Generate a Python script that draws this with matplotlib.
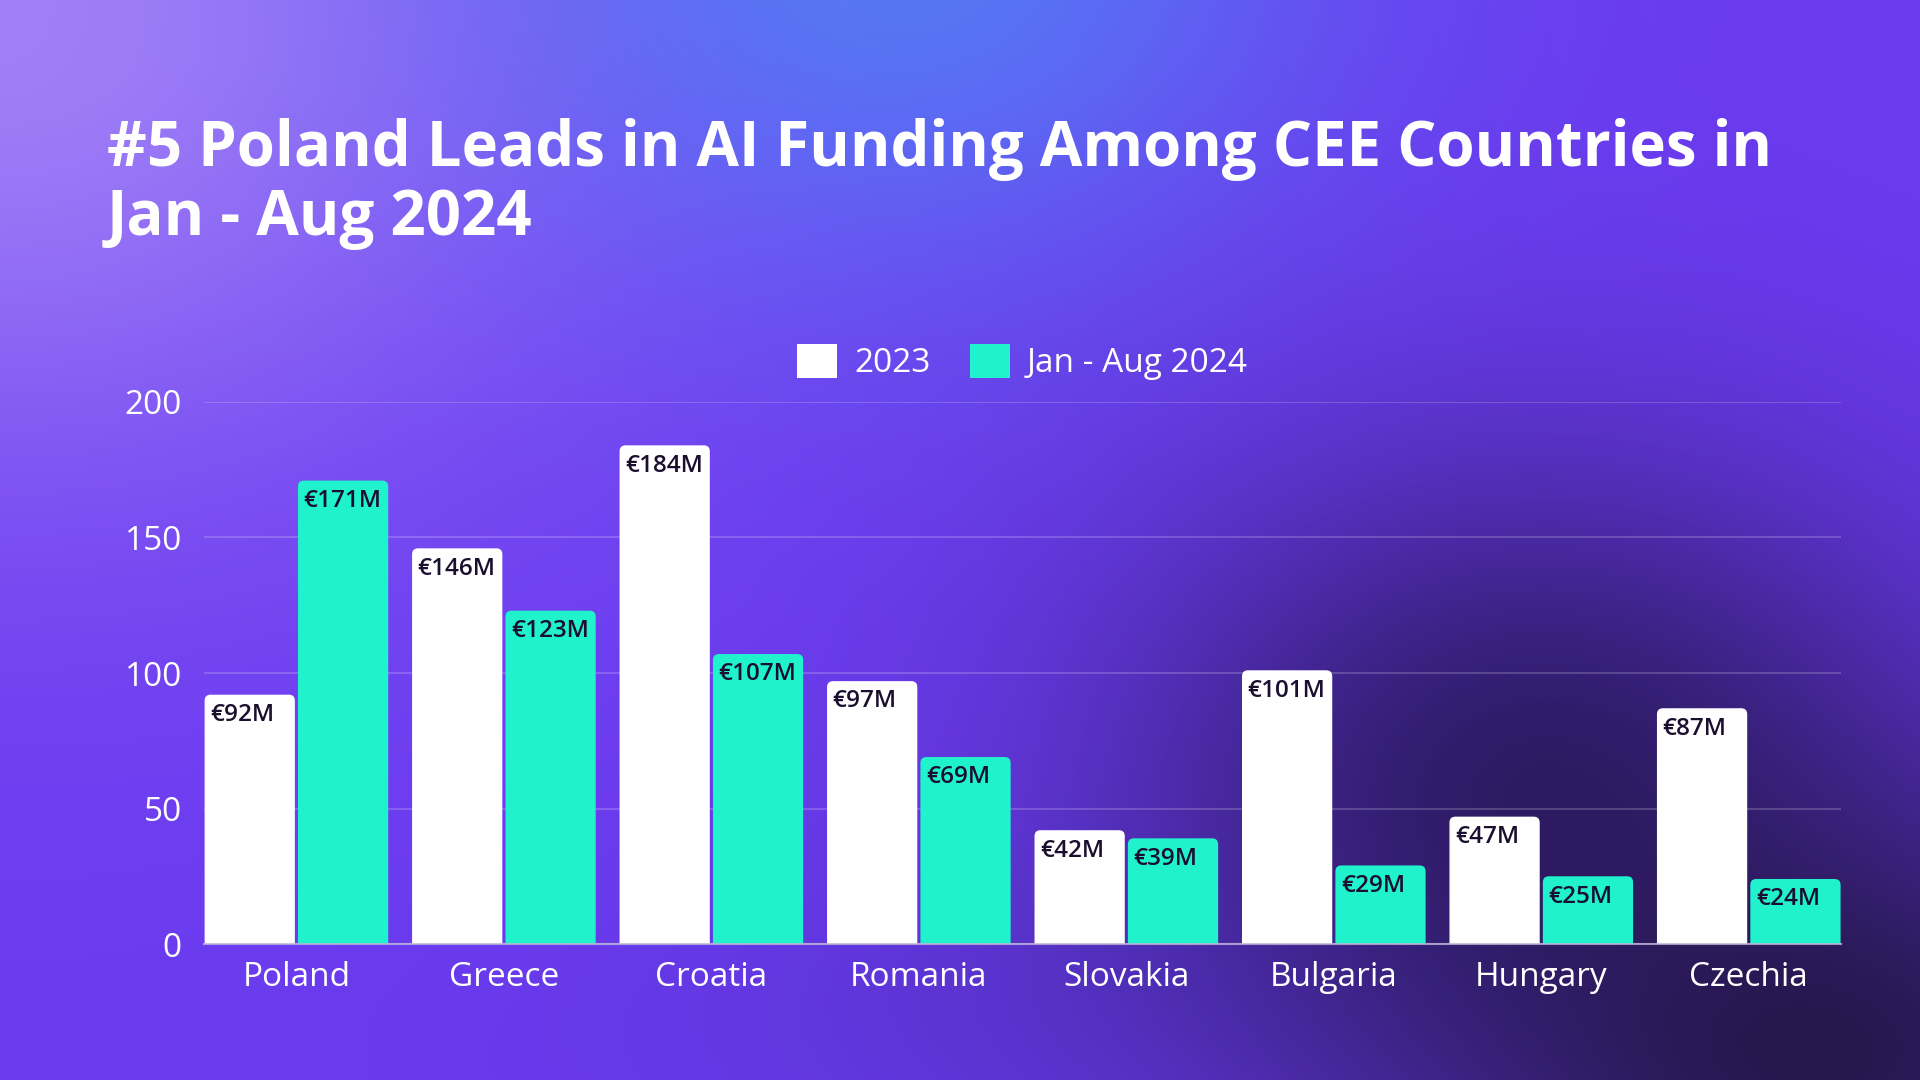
import matplotlib.pyplot as plt
import numpy as np
from matplotlib.patches import FancyBboxPatch, Patch

plt.rcParams['font.family'] = ['Open Sans', 'DejaVu Sans']

# data
countries = ["Poland", "Greece", "Croatia", "Romania", "Slovakia", "Bulgaria", "Hungary", "Czechia"]
funding_2023 = [92, 146, 184, 97, 42, 101, 47, 87]
funding_2024 = [171, 123, 107, 69, 39, 29, 25, 24]
series_names = ["2023", "Jan - Aug 2024"]
yticks = [0, 50, 100, 150, 200]

title = "#5 Poland Leads in AI Funding Among CEE Countries in\nJan - Aug 2024"

WHITE = "#FFFFFF"
TEAL = "#1FF2CC"
LABEL = "#1A0F2E"

fig = plt.figure(figsize=(19.2, 10.8), dpi=100)

# background gradient
H, W = 270, 480
yy, xx = np.mgrid[0:H, 0:W]
xx = xx / (W - 1)
yy = yy / (H - 1)
img = np.ones((H, W, 3)) * np.array([0.42, 0.23, 0.94])

def blend(img, cx, cy, rx, ry, color, strength):
    w = strength * np.exp(-((xx - cx) / rx) ** 2 - ((yy - cy) / ry) ** 2)
    return img * (1 - w[..., None]) + np.array(color) * w[..., None]

img = blend(img, 0.0, 0.0, 0.32, 0.45, [0.63, 0.50, 0.97], 1.0)
img = blend(img, 0.47, -0.05, 0.22, 0.30, [0.33, 0.48, 0.96], 0.95)
img = blend(img, 0.55, 0.95, 0.25, 0.15, [0.33, 0.20, 0.80], 0.5)
img = blend(img, 0.80, 0.72, 0.22, 0.30, [0.15, 0.09, 0.33], 0.85)
img = blend(img, 0.95, 0.98, 0.22, 0.25, [0.13, 0.08, 0.25], 0.9)

ax_bg = fig.add_axes([0, 0, 1, 1], zorder=-10)
ax_bg.imshow(np.clip(img, 0, 1), aspect='auto', interpolation='bicubic', extent=[0, 1, 0, 1])
ax_bg.set_axis_off()

fig.text(0.0557, 0.891, title, color=WHITE, fontsize=44.5, fontweight='bold',
         ha='left', va='top', linespacing=1.13)

ax = fig.add_axes([0.1063, 0.1259, 0.8526, 0.5019])
ax.set_facecolor('none')

x = np.arange(len(countries))
bw = 0.435
off = 0.225
ax.set_xlim(-0.445, len(countries) - 1 + 0.445)
ax.set_ylim(0, 200)

# rounded corners: make radius equal in pixels along both axes
fig.canvas.draw()
bbox = ax.get_window_extent()
px_per_x = bbox.width / 7.89
px_per_y = bbox.height / 200
aspect = px_per_x / px_per_y
rad = 6 / px_per_x

for vals, dx, col in [(funding_2023, -off, WHITE), (funding_2024, off, TEAL)]:
    for xi, v in zip(x, vals):
        left = xi + dx - bw / 2
        p = FancyBboxPatch((left, -5), bw, v + 5,
                           boxstyle=f"round,pad=0,rounding_size={rad}",
                           mutation_aspect=aspect, fc=col, ec='none', zorder=3,
                           clip_on=True)
        ax.add_patch(p)
        ax.annotate(f"€{v}M", (left, v), xytext=(4, -6), textcoords='offset points',
                    ha='left', va='top', fontsize=17.5, fontweight=600, color=LABEL, zorder=4)

ax.set_yticks(yticks)
ax.set_yticklabels([str(t) for t in yticks])
ax.set_xticks(x)
ax.set_xticklabels(countries)
ax.tick_params(axis='both', length=0, colors=WHITE, labelsize=24)
ax.tick_params(axis='y', pad=16)
ax.tick_params(axis='x', pad=12)
ax.grid(axis='y', color='white', alpha=0.22, linewidth=1.2, zorder=0)
for s in ['top', 'right', 'left']:
    ax.spines[s].set_visible(False)
ax.spines['bottom'].set_color((0.75, 0.72, 0.85, 0.8))
ax.spines['bottom'].set_linewidth(1.5)
ax.spines['bottom'].set_zorder(5)

handles = [Patch(fc=WHITE, ec='none'), Patch(fc=TEAL, ec='none')]
leg = ax.legend(handles, series_names, loc='lower center', bbox_to_anchor=(0.5, 0.985),
                ncol=2, frameon=False, fontsize=24,
                handlelength=1.2, handleheight=1.2, handletextpad=0.5, columnspacing=1.2)
for t in leg.get_texts():
    t.set_color(WHITE)

fig.savefig("out.png", dpi=100)
